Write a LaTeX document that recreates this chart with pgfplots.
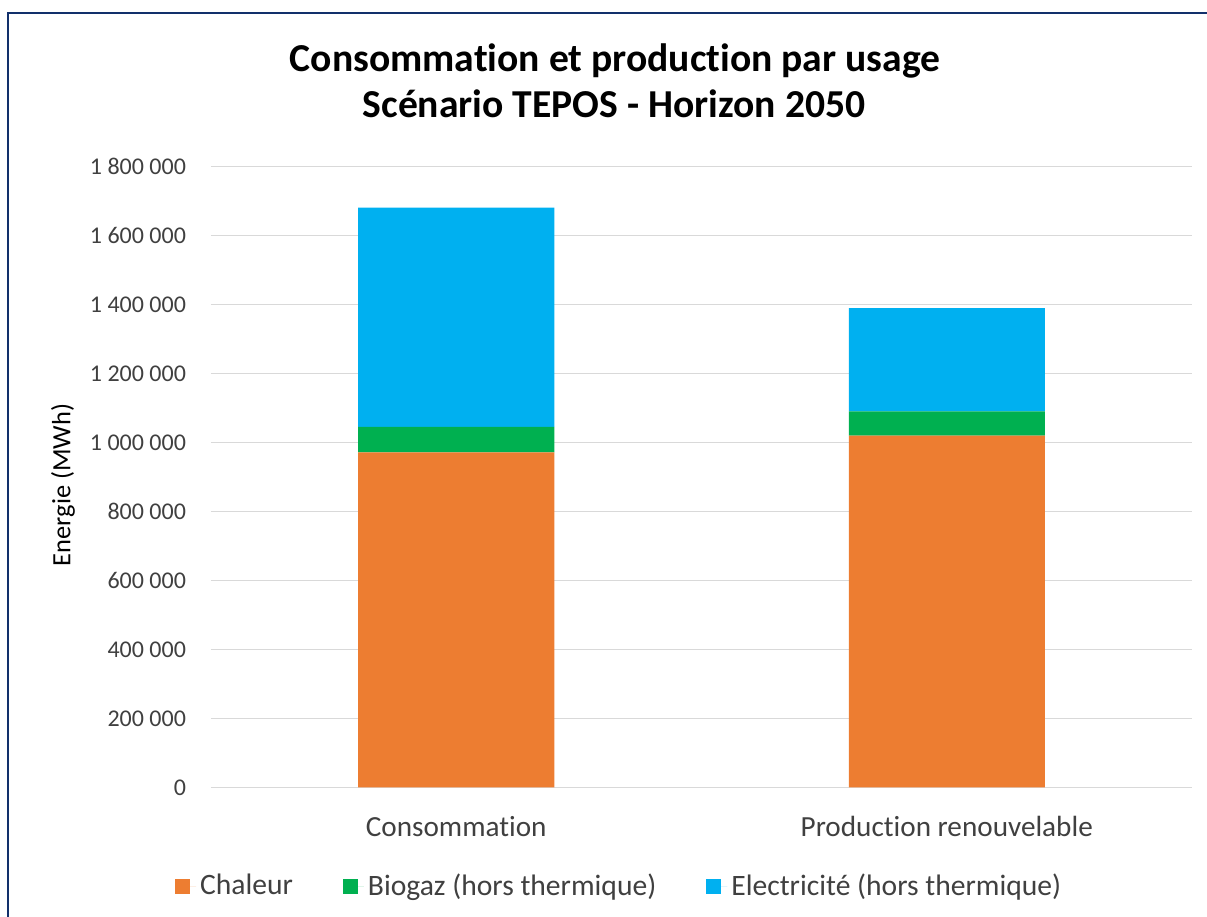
\documentclass[border=0pt]{standalone}
\usepackage{pgfplots}
\pgfplotsset{compat=1.18}
\usepackage{fontspec}
\setmainfont[Ligatures=NoCommon]{Carlito}
\definecolor{cOrange}{HTML}{ED7D31}
\definecolor{cGreen}{HTML}{00B050}
\definecolor{cBlue}{HTML}{00B0F0}
\definecolor{cGrid}{HTML}{D9D9D9}
\definecolor{cText}{HTML}{404040}
\definecolor{cBorder}{HTML}{12306B}
\begin{document}
\begin{tikzpicture}
\path[use as bounding box] (0pt,0pt) rectangle (603.5pt,458.5pt);
\draw[cBorder, line width=1.3pt] (4pt,-2pt) -- (4pt,452pt) -- (610pt,452pt);
\node[font=\bfseries\fontsize{19.8}{22}\selectfont] at (307.5pt,428pt) {Consommation et production par usage};
\node[font=\bfseries\fontsize{19.8}{22}\selectfont] at (307pt,406.5pt) {Scénario TEPOS - Horizon 2050};
\node[rotate=90, font=\fontsize{13.2}{15}\selectfont, text=black] at (31.5pt,216pt) {Energie (MWh)};
\begin{axis}[
  at={(105.5pt,64.85pt)}, anchor=south west,
  scale only axis, width=490.5pt, height=310.5pt,
  xmin=-0.5, xmax=1.5, ymin=0, ymax=1800000,
  ybar stacked, bar width=98pt,
  xtick={0,1}, xticklabels={Consommation, Production renouvelable},
  ytick={0,200000,400000,600000,800000,1000000,1200000,1400000,1600000,1800000},
  ymajorgrids, grid style={cGrid, line width=0.8pt},
  axis line style={draw=none}, major tick length=0pt,
  scaled y ticks=false,
  yticklabel style={text=cText, font=\fontsize{12}{14}\selectfont, xshift=-9pt, /pgf/number format/.cd, fixed, 1000 sep={\ }, assume math mode=true},
  xticklabel style={text=cText, font=\fontsize{14.6}{16}\selectfont, yshift=-11pt},
  legend columns=3,
  legend style={at={(0.417,-0.159)}, anchor=center, draw=none, fill=none, font=\fontsize{14.8}{16}\selectfont, text=cText,
    /tikz/every even column/.append style={column sep=23pt}},
  legend image code/.code={\fill[#1] (0pt,-3.75pt) rectangle (7.5pt,3.75pt); \path (0pt,0pt) -- (10.5pt,0pt);},
]
\addplot[fill=cOrange, draw=none] coordinates {(0,971000) (1,1019000)};
\addlegendentry{Chaleur}
\addplot[fill=cGreen, draw=none] coordinates {(0,74000) (1,71000)};
\addlegendentry{Biogaz (hors thermique)}
\addplot[fill=cBlue, draw=none] coordinates {(0,635000) (1,299000)};
\addlegendentry{Electricité (hors thermique)}
\end{axis}
\end{tikzpicture}
\end{document}
